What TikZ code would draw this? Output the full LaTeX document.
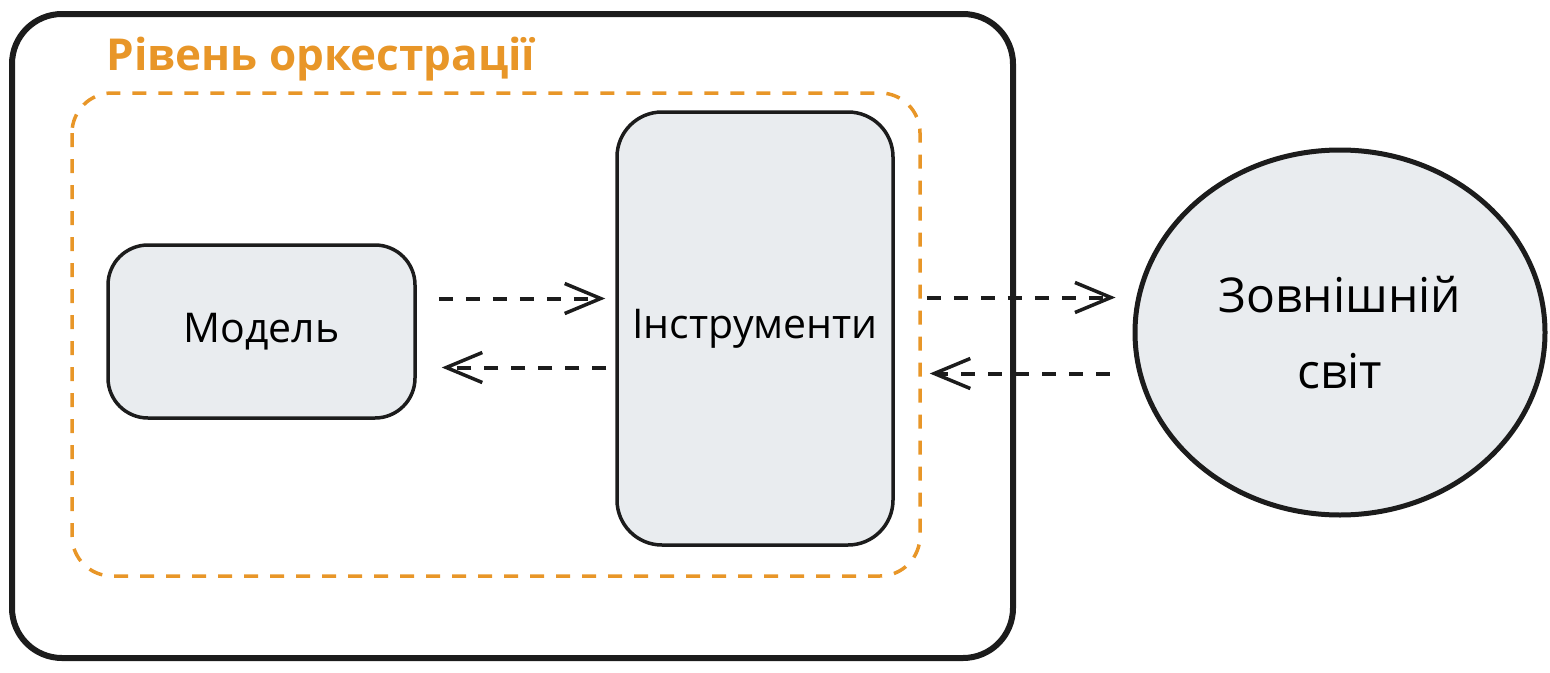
\documentclass[tikz,border=0pt]{standalone}
\usepackage{fontspec}
\setmainfont{Open Sans}
\usetikzlibrary{arrows.meta,shapes.geometric}
\definecolor{boxfill}{RGB}{233,236,239}
\definecolor{orch}{RGB}{232,150,40}
\definecolor{ink}{RGB}{28,28,28}
\begin{document}
\begin{tikzpicture}[x=1pt,y=-1pt,
    block/.style={draw=ink,line width=3.5pt,fill=boxfill,rounded corners=40pt,inner sep=0pt,align=center,font=\fontsize{41}{48}\selectfont},
    world/.style={ellipse,draw=ink,line width=5pt,fill=boxfill,inner sep=0pt,align=center,font=\fontsize{48}{76}\selectfont},
    flow/.style={draw=ink,line width=4pt,dash pattern=on 14pt off 13pt,-{Straight Barb[length=36pt,width=30pt,line width=3.5pt]}}]
    \useasboundingbox (0,0) rectangle (1550,672);
    % outer stage and orchestration layer
    \draw[ink,line width=6pt,rounded corners=50pt] (12,14) rectangle (1013,658);
    \draw[orch,line width=3.5pt,dash pattern=on 14pt off 12pt,rounded corners=40pt] (72,93) rectangle (920,576);
    \node[anchor=base west,text=orch,font=\fontsize{44}{50}\selectfont\bfseries] (title) at (103,70) {Рівень оркестрації};
    % blocks
    \node[block,minimum width=307pt,minimum height=173pt] (model) at (261.5,331.5) {Модель};
    \node[block,minimum width=276pt,minimum height=433pt,rounded corners=45pt] (tools) at (755,328.5) {Інструменти};
    \node[world,minimum width=410pt,minimum height=365pt] (ext) at (1340,332.5) {Зовнішній\\світ};
    % calls
    \draw[flow,shorten <=22pt,shorten >=10pt] ([yshift=33pt]model.east) -- ([yshift=33pt]model.east -| tools.west);
    \draw[flow,shorten <=9pt,shorten >=25pt] ([yshift=-39pt]tools.west) -- ([yshift=-39pt]tools.west -| model.east);
    \draw[flow,shorten <=32pt,shorten >=17pt] ([yshift=31pt]tools.east) -- ([yshift=31pt]tools.east -| ext.west);
    \draw[flow,shorten <=23pt,shorten >=35pt] ([yshift=-41pt]ext.west) -- ([yshift=-41pt]ext.west -| tools.east);
\end{tikzpicture}
\end{document}
